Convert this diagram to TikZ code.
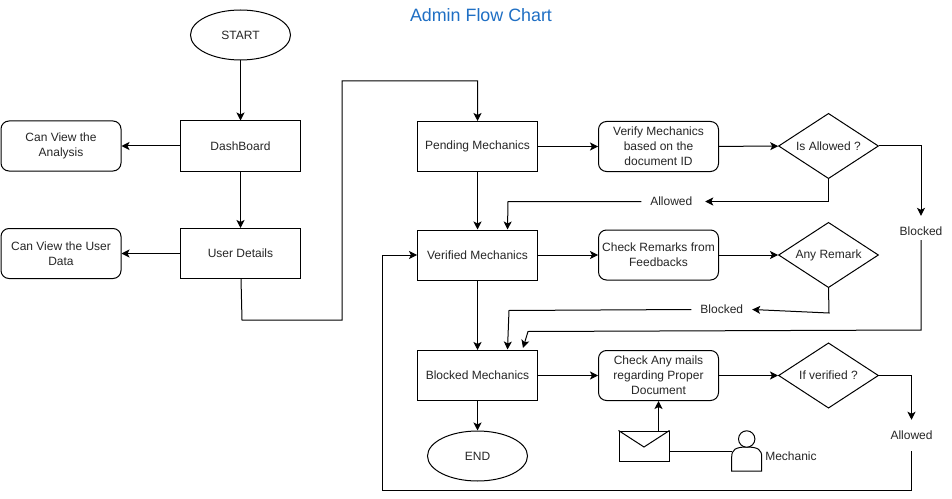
\documentclass[tikz,border=0pt]{standalone}
\usepackage{fontspec}
\setmainfont{Liberation Sans}
\usetikzlibrary{shapes.geometric,arrows.meta}
\definecolor{ttl}{HTML}{1F6FC4}
\tikzset{
 x=0.75pt,y=-0.75pt,
 base/.style={draw=black,line width=0.75pt,align=center,font=\fontsize{9}{11.2}\selectfont,inner sep=0pt,fill=white,text=black!85},
 boxn/.style={base,rectangle,minimum width=90pt,minimum height=37.5pt},
 rbox/.style={base,rectangle,rounded corners=6pt,minimum width=90pt,minimum height=37.5pt},
 ell/.style={base,ellipse,minimum width=75pt,minimum height=37.5pt},
 dia/.style={base,diamond,aspect=1.5,minimum width=75pt,minimum height=49pt},
 lab/.style={font=\fontsize{9}{11.2}\selectfont,inner sep=0pt,text=black!85},
 conn/.style={draw=black,line width=0.75pt,-{Stealth[length=6pt,width=6pt,inset=1.5pt]}},
 plain/.style={draw=black,line width=0.75pt},
}
\begin{document}
\begin{tikzpicture}
\useasboundingbox (0,0) rectangle (952,499);
\fill[white] (0,0) rectangle (952,499);
\node[font=\fontsize{13.4}{16}\selectfont,text=ttl] (title) at (481,15) {Admin Flow Chart};
\node[ell] (start) at (240.5,35) {START};
\node[boxn] (dash) at (240.5,146) {DashBoard};
\node[boxn] (user) at (240.5,253.5) {User Details};
\node[rbox] (can1) at (61,146) {Can View the\\Analysis};
\node[rbox] (can2) at (61,253.5) {Can View the User\\Data};
\node[boxn] (pend) at (477.5,146.5) {Pending Mechanics};
\node[boxn] (veri) at (477.5,255) {Verified Mechanics};
\node[boxn] (block) at (477.5,375.5) {Blocked Mechanics};
\node[ell] (end) at (477.5,456) {END};
\node[rbox] (v1) at (658.5,146.5) {Verify Mechanics\\based on the\\document ID};
\node[rbox] (v2) at (658.5,255) {Check Remarks from\\Feedbacks};
\node[rbox] (v3) at (658.5,375.5) {Check Any mails\\regarding Proper\\Document};
\node[dia] (d1) at (828.5,146) {Is Allowed ?};
\node[dia] (d2) at (828.5,255) {Any Remark};
\node[dia] (d3) at (828.5,375.5) {If verified ?};
\node[lab,minimum width=47.5pt,minimum height=10pt] (l1) at (673.3,201.5) {Allowed\hspace*{3pt}};
\node[lab,minimum width=45.2pt,minimum height=10pt] (l2) at (721.8,309.5) {Blocked};
\node[lab,minimum width=40pt,minimum height=10pt] (l3) at (921,231) {Blocked};
\node[lab,minimum width=40pt,minimum height=23.2pt] (l4) at (911.5,435.5) {Allowed};
% envelope
\node[draw=black,line width=0.75pt,fill=white,minimum width=37.5pt,minimum height=22.5pt,inner sep=0pt] (mail) at (644,446) {};
\draw[plain] (mail.north west) -- (644,447) -- (mail.north east);
% person
\draw[plain,fill=white] (731.7,471) -- (731.7,457) .. controls (731.7,450) and (735,447) .. (746.7,447) .. controls (758.4,447) and (761.7,450) .. (761.7,457) -- (761.7,471) -- cycle;
\draw[plain,fill=white] (746.7,439) circle[radius=8.2];
\coordinate (persl) at (731.7,451);
\coordinate (mailr) at (669,451);
\node[lab,anchor=west] (mech) at (765,456) {Mechanic};
% connectors
\coordinate (ubot) at (241,279);
\draw[conn] (start) -- (dash);
\draw[conn] (dash) -- (user);
\draw[conn] (dash) -- (can1);
\draw[conn] (user) -- (can2);
\draw[conn] (ubot) -- (242,320) -| (342,81) -| (pend.north);
\draw[conn] (pend) -- (veri);
\draw[conn] (veri) -- (block);
\draw[conn] (block) -- (end);
\draw[conn] (pend) -- (v1);
\draw[conn] (veri) -- (v2);
\draw[conn] (block) -- (v3);
\draw[conn] (v1) -- (d1);
\draw[conn] (v2) -- (d2);
\draw[conn] (v3) -- (d3);
\draw[conn] (d1.south) |- (l1.east);
\draw[conn] (l1.west) -- (508,201.5) -- (507.5,229.5);
\draw[conn] (d2.south) -- (829,313) -- (l2.east);
\draw[conn] (l2.west) -- (509,310.5) -- (507.5,349.5);
\draw[conn,shorten >=6.2pt] (d1.east) -- (921,146) -- (l3.north);
\coordinate (bturn) at (528,331.5);
\coordinate (btip) at (523,348);
\draw[conn,shorten <=1.7pt] (l3.south) -- (921,330) -- (bturn) -- (btip);
\draw[conn] (d3.east) -- (911.5,375.5) -- (l4.north);
\draw[conn] (l4.south) -- (911.5,490.5) -- (382,490.5) -- (382,255) -- (veri.west);
\draw[conn] (v3.south |- mail.north) -- (v3.south);
\draw[plain] (mailr) -- (persl);
\end{tikzpicture}
\end{document}
